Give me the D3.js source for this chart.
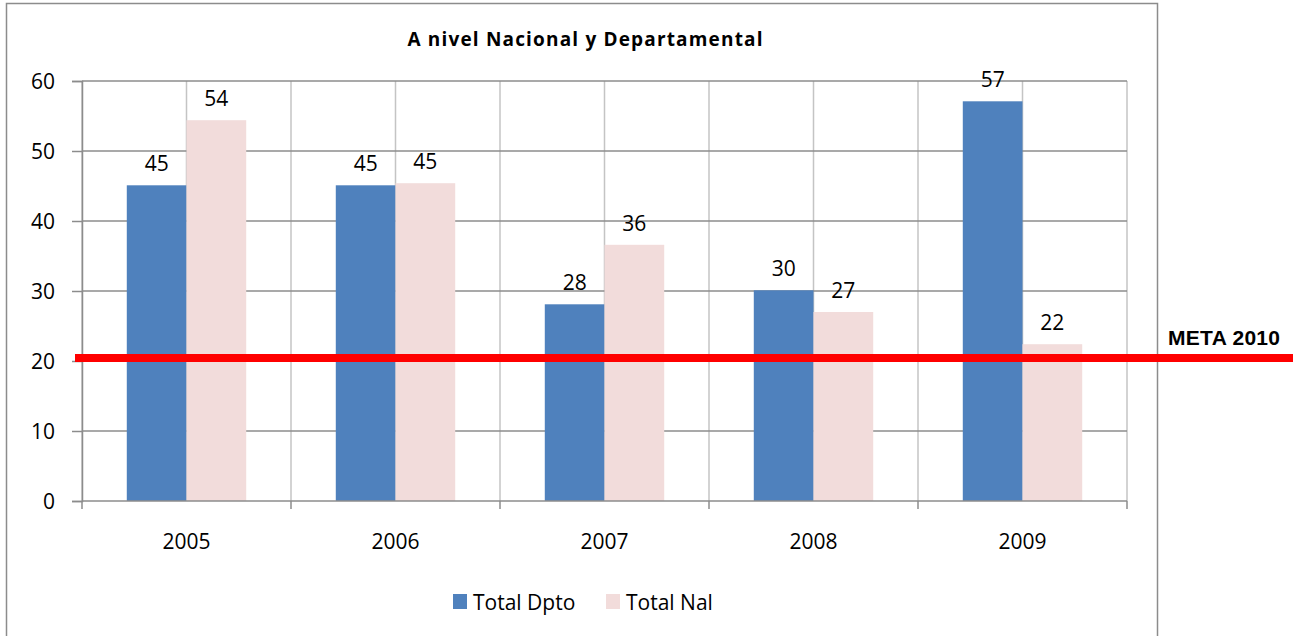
<!DOCTYPE html>
<html>
<head>
<meta charset="utf-8">
<script src="https://cdn.jsdelivr.net/npm/d3@7"></script>
<style>
  body { margin: 0; background: #fff; }
  text { font-family: "Open Sans", "DejaVu Sans", sans-serif; fill: #000; }
</style>
</head>
<body>
<div id="chart"></div>
<script>
// data
var years = ["2005", "2006", "2007", "2008", "2009"];
var totalDpto = [45.1, 45.1, 28.1, 30.1, 57.1];
var totalNal = [54.4, 45.4, 36.6, 27.0, 22.4];
var dptoLabels = ["45", "45", "28", "30", "57"];
var nalLabels = ["54", "45", "36", "27", "22"];
var seriesNames = ["Total Dpto", "Total Nal"];
var yTicks = [0, 10, 20, 30, 40, 50, 60];
var meta = 20;

var width = 1304, height = 636;
var plot = { left: 82, right: 1127, top: 81, bottom: 501 };
var colors = ["#4f81bd", "#f2dcdb"];

var svg = d3.select("#chart").append("svg").attr("width", width).attr("height", height);

// outer chart frame
svg.append("rect").attr("x", 6.5).attr("y", 3.5).attr("width", 1151).attr("height", 640)
  .attr("fill", "none").attr("stroke", "#8c8c8c").attr("stroke-width", 1.5);

var x = d3.scaleBand().domain(years).range([plot.left, plot.right]).paddingInner(0).paddingOuter(0);
var y = d3.scaleLinear().domain([0, 60]).range([plot.bottom, plot.top]);
var barW = x.bandwidth() / 3.5;

// vertical gridlines at category edges and centres
var vLines = [];
years.forEach(function(yr) {
  vLines.push(x(yr));
  vLines.push(x(yr) + x.bandwidth() / 2);
});
vLines.push(plot.right);
svg.append("g").selectAll("line").data(vLines).enter().append("line")
  .attr("x1", function(d) { return d; }).attr("x2", function(d) { return d; })
  .attr("y1", plot.top).attr("y2", plot.bottom)
  .attr("stroke", "#c4c4c4").attr("stroke-width", 1.5);

// horizontal gridlines
svg.append("g").selectAll("line").data(yTicks.slice(1)).enter().append("line")
  .attr("x1", plot.left).attr("x2", plot.right)
  .attr("y1", function(d) { return y(d); }).attr("y2", function(d) { return y(d); })
  .attr("stroke", "#8c8c8c").attr("stroke-width", 1.5);

// bars
var groups = [totalDpto, totalNal];
groups.forEach(function(vals, s) {
  svg.append("g").selectAll("rect").data(vals).enter().append("rect")
    .attr("x", function(d, i) { return x(years[i]) + x.bandwidth() / 2 - barW + s * barW; })
    .attr("y", function(d) { return y(d); })
    .attr("width", barW)
    .attr("height", function(d) { return y(0) - y(d); })
    .attr("fill", colors[s]);
});

// data labels
var labelSets = [dptoLabels, nalLabels];
labelSets.forEach(function(labs, s) {
  svg.append("g").selectAll("text").data(labs).enter().append("text")
    .attr("x", function(d, i) { return x(years[i]) + x.bandwidth() / 2 - barW / 2 + s * barW; })
    .attr("y", function(d, i) { return y(groups[s][i]) - 14; })
    .attr("text-anchor", "middle").style("font-size", "21px")
    .text(function(d) { return d; });
});

// y axis
var yAxis = d3.axisLeft(y).tickValues(yTicks).tickSize(10).tickPadding(17);
var gy = svg.append("g").attr("transform", "translate(" + plot.left + ",0)").call(yAxis);
gy.select(".domain").attr("stroke", "#8c8c8c").attr("stroke-width", 1.5);
gy.selectAll(".tick line").attr("stroke", "#8c8c8c").attr("stroke-width", 1.5);
gy.selectAll(".tick text").attr("dy", "0.36em").style("font-size", "21px").style("font-family", "Open Sans, DejaVu Sans, sans-serif");

// x axis with ticks at category edges
var xEdge = d3.scaleLinear().domain([0, years.length]).range([plot.left, plot.right]);
svg.append("line").attr("x1", plot.left).attr("x2", plot.right)
  .attr("y1", plot.bottom).attr("y2", plot.bottom).attr("stroke", "#8c8c8c").attr("stroke-width", 1.5);
svg.append("g").selectAll("line").data(d3.range(years.length + 1)).enter().append("line")
  .attr("x1", function(d) { return xEdge(d); }).attr("x2", function(d) { return xEdge(d); })
  .attr("y1", plot.bottom).attr("y2", plot.bottom + 8)
  .attr("stroke", "#8c8c8c").attr("stroke-width", 1.5);
svg.append("g").selectAll("text").data(years).enter().append("text")
  .attr("x", function(d) { return x(d) + x.bandwidth() / 2; })
  .attr("y", 549).attr("text-anchor", "middle").style("font-size", "21px")
  .text(function(d) { return d; });

// META 2010 target line
svg.append("line").attr("x1", 75).attr("x2", 1293)
  .attr("y1", y(meta) - 3).attr("y2", y(meta) - 3)
  .attr("stroke", "#ff0000").attr("stroke-width", 8);
svg.append("text").attr("x", 1168).attr("y", 345)
  .style("font-family", "Liberation Sans, Arial, sans-serif").style("font-weight", "bold").style("font-size", "21px")
  .attr("textLength", 112)
  .text("META 2010");

// title
svg.append("text").attr("x", 585).attr("y", 46).attr("text-anchor", "middle")
  .style("font-weight", "bold").style("font-size", "19px").attr("textLength", 355)
  .text("A nivel Nacional y Departamental");

// legend
var legendX = [453, 606];
seriesNames.forEach(function(name, s) {
  svg.append("rect").attr("x", legendX[s]).attr("y", 594).attr("width", 14).attr("height", 15).attr("fill", colors[s]);
  svg.append("text").attr("x", legendX[s] + 20).attr("y", 610).style("font-size", "21px").text(name);
});
</script>
</body>
</html>
